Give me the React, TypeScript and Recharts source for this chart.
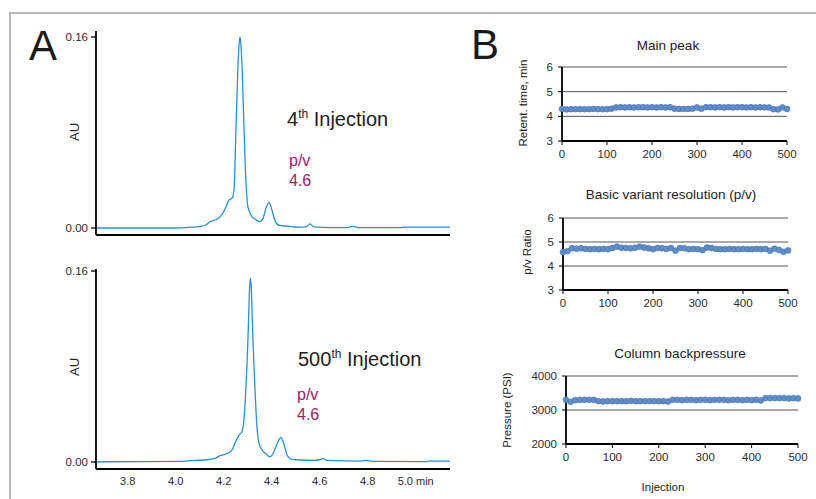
import { CartesianGrid, Line, LineChart, XAxis, YAxis } from "recharts";

const FONT = '"Liberation Sans", Arial, Helvetica, sans-serif';
const W = 816;
const H = 499;

// Panel A: chromatograms (retention time in min, absorbance in AU)
const TIME_4TH = [
  3.668, 3.98, 4.039, 4.093, 4.122, 4.143, 4.172, 4.197, 4.21, 4.222, 4.235, 4.243, 4.251, 4.26,
  4.264, 4.268, 4.272, 4.276, 4.285, 4.293, 4.301, 4.314, 4.33, 4.351, 4.364, 4.376, 4.389, 4.401,
  4.414, 4.43, 4.476, 4.518, 4.543, 4.56, 4.576, 4.643, 4.718, 4.739, 4.759, 4.934, 4.955, 5.143,
];
const AU_4TH = [
  0, 0, 0.0004, 0.0011, 0.0021, 0.0053, 0.0073, 0.0126, 0.0178, 0.0235, 0.0249, 0.0318, 0.0821,
  0.1382, 0.1533, 0.1598, 0.1533, 0.1382, 0.0821, 0.0377, 0.0178, 0.0109, 0.0075, 0.0053, 0.0081,
  0.0165, 0.0215, 0.0151, 0.0061, 0.0023, 0.0013, 0.0008, 0.001, 0.0034, 0.001, 0.0004, 0.0004,
  0.0013, 0.0004, 0.0003, 0.0007, 0.0007,
];
const TIME_500TH = [
  3.668, 3.726, 4.018, 4.08, 4.135, 4.164, 4.185, 4.214, 4.235, 4.251, 4.264, 4.276, 4.28, 4.287,
  4.293, 4.298, 4.303, 4.3075, 4.311, 4.315, 4.32, 4.326, 4.3325, 4.339, 4.347, 4.36, 4.376, 4.393,
  4.405, 4.422, 4.439, 4.451, 4.464, 4.48, 4.518, 4.58, 4.601, 4.614, 4.63, 4.768, 4.796, 4.818,
  5.039, 5.06, 5.143,
];
const AU_500TH = [
  0, 0.0002, 0.0006, 0.0013, 0.0021, 0.0031, 0.0053, 0.0071, 0.0101, 0.0176, 0.0226, 0.0254,
  0.0285, 0.0419, 0.0645, 0.0854, 0.1148, 0.1441, 0.1539, 0.1458, 0.1148, 0.0813, 0.0519, 0.0285,
  0.0159, 0.0101, 0.0067, 0.0044, 0.0067, 0.0151, 0.0207, 0.0151, 0.0059, 0.0025, 0.0017, 0.0014,
  0.0021, 0.0029, 0.0014, 0.0008, 0.0014, 0.0006, 0.0004, 0.0008, 0.0008,
];
const TIME_TICKS = [3.8, 4.0, 4.2, 4.4, 4.6, 4.8, 5.0];
const AU_TICKS = [0, 0.16];

// Panel B: trends over 500 injections
const INJECTIONS = [
  0, 10, 20, 30, 40, 50, 60, 70, 80, 90, 100, 110, 120, 130, 140, 150, 160, 170, 180, 190, 200,
  210, 220, 230, 240, 250, 260, 270, 280, 290, 300, 310, 320, 330, 340, 350, 360, 370, 380, 390,
  400, 410, 420, 430, 440, 450, 460, 470, 480, 490, 500,
];
const RETENTION = [
  4.3, 4.28, 4.29, 4.29, 4.29, 4.29, 4.29, 4.3, 4.29, 4.29, 4.29, 4.31, 4.36, 4.37, 4.36, 4.37,
  4.36, 4.37, 4.37, 4.36, 4.37, 4.36, 4.37, 4.36, 4.37, 4.31, 4.3, 4.3, 4.3, 4.31, 4.36, 4.31,
  4.37, 4.37, 4.36, 4.37, 4.36, 4.37, 4.36, 4.37, 4.37, 4.36, 4.37, 4.36, 4.37, 4.36, 4.36, 4.29,
  4.28, 4.36, 4.3,
];
const PV_RATIO = [
  4.58, 4.62, 4.74, 4.72, 4.74, 4.71, 4.7, 4.71, 4.7, 4.71, 4.7, 4.75, 4.81, 4.76, 4.75, 4.74,
  4.76, 4.81, 4.77, 4.74, 4.7, 4.75, 4.74, 4.71, 4.75, 4.64, 4.75, 4.74, 4.7, 4.71, 4.7, 4.66,
  4.77, 4.75, 4.71, 4.7, 4.7, 4.71, 4.7, 4.7, 4.71, 4.7, 4.7, 4.71, 4.7, 4.71, 4.64, 4.72, 4.67,
  4.59, 4.65,
];
const PRESSURE = [
  3300, 3240, 3290, 3300, 3300, 3300, 3300, 3260, 3250, 3260, 3260, 3260, 3260, 3260, 3270, 3260,
  3260, 3260, 3260, 3260, 3260, 3260, 3250, 3300, 3300, 3290, 3300, 3300, 3290, 3300, 3300, 3290,
  3300, 3300, 3300, 3290, 3300, 3300, 3290, 3300, 3290, 3300, 3280, 3350, 3350, 3350, 3350, 3350,
  3340, 3350, 3340,
];
const INJECTION_TICKS = [0, 100, 200, 300, 400, 500];

const fourth = TIME_4TH.map((t, i) => ({ t, au: AU_4TH[i] }));
const fivehundredth = TIME_500TH.map((t, i) => ({ t, au: AU_500TH[i] }));
const retention = INJECTIONS.map((n, i) => ({ n, v: RETENTION[i] }));
const pvRatio = INJECTIONS.map((n, i) => ({ n, v: PV_RATIO[i] }));
const pressure = INJECTIONS.map((n, i) => ({ n, v: PRESSURE[i] }));

const tickStyle = { fontSize: 11.5, fill: "#2b2b2b", fontFamily: FONT };
const axisLine = { stroke: "#000", strokeWidth: 1.8 };

type Box = { left: number; right: number; top: number; bottom: number };

function layer(): React.CSSProperties {
  return { position: "absolute", left: 0, top: 0 };
}

function Chromatogram({
  data,
  box,
  yMax,
  showTime,
}: {
  data: { t: number; au: number }[];
  box: Box;
  yMax: number;
  showTime: boolean;
}) {
  const xh = showTime ? 26 : 4;
  return (
    <div style={layer()}>
      <LineChart
        width={W}
        height={H}
        data={data}
        margin={{ top: box.top, right: W - box.right, bottom: H - box.bottom - xh, left: box.left - 44 }}
      >
        <XAxis
          dataKey="t"
          type="number"
          domain={[3.668, 5.143]}
          allowDataOverflow
          ticks={TIME_TICKS}
          tick={showTime ? { ...tickStyle, fontSize: 11 } : false}
          tickFormatter={(v: number) => (v === 5 ? "5.0 min" : v.toFixed(1))}
          tickLine={false}
          tickSize={4}
          tickMargin={4}
          axisLine={axisLine}
          height={xh}
        />
        <YAxis
          type="number"
          domain={[-0.00586, yMax]}
          allowDataOverflow
          ticks={AU_TICKS}
          tickFormatter={(v: number) => v.toFixed(2)}
          tick={tickStyle}
          tickLine={{ stroke: "#000", strokeWidth: 1.3 }}
          tickSize={5}
          tickMargin={3}
          axisLine={axisLine}
          width={44}
        />
        <Line
          dataKey="au"
          type="monotone"
          stroke="#2592da"
          strokeWidth={1.3}
          dot={false}
          isAnimationActive={false}
        />
      </LineChart>
    </div>
  );
}

function TrendChart({
  data,
  box,
  domain,
  ticks,
}: {
  data: { n: number; v: number }[];
  box: Box;
  domain: [number, number];
  ticks: number[];
}) {
  const xh = 24;
  return (
    <div style={layer()}>
      <LineChart
        width={W}
        height={H}
        data={data}
        margin={{ top: box.top, right: W - box.right, bottom: H - box.bottom - xh, left: box.left - 50 }}
      >
        <CartesianGrid vertical={false} stroke="#555" strokeWidth={1} />
        <XAxis
          dataKey="n"
          type="number"
          domain={[0, 500]}
          ticks={INJECTION_TICKS}
          tick={tickStyle}
          tickLine={{ stroke: "#000" }}
          tickSize={4}
          tickMargin={5}
          axisLine={axisLine}
          height={xh}
        />
        <YAxis
          type="number"
          domain={domain}
          ticks={ticks}
          tick={tickStyle}
          tickLine={{ stroke: "#000" }}
          tickSize={4}
          tickMargin={5}
          axisLine={axisLine}
          width={50}
        />
        <Line
          dataKey="v"
          type="linear"
          stroke="#4f81bd"
          strokeWidth={2.2}
          dot={{ r: 2.9, fill: "#5d8dcb", stroke: "#4677b6", strokeWidth: 0.7 }}
          isAnimationActive={false}
        />
      </LineChart>
    </div>
  );
}

function VText({ x, y, children, size = 11.5 }: { x: number; y: number; children: string; size?: number }) {
  return (
    <text
      x={x}
      y={y}
      dy="0.35em"
      fontSize={size}
      textAnchor="middle"
      transform={`rotate(-90 ${x} ${y})`}
      fill="#222"
    >
      {children}
    </text>
  );
}

export default function App() {
  return (
    <div
      style={{ position: "absolute", left: 0, top: 0, width: W, height: H, background: "#fff", fontFamily: FONT, overflow: "hidden" }}
    >
      <div
        style={{
          position: "absolute",
          left: 9,
          top: 12,
          width: W,
          height: H,
          borderTop: "2px solid #b8b8b8",
          borderLeft: "2px solid #b8b8b8",
        }}
      />
      <Chromatogram data={fourth} box={{ left: 96, right: 450, top: 31, bottom: 235 }} yMax={0.165} showTime={false} />
      <Chromatogram data={fivehundredth} box={{ left: 96, right: 450, top: 269, bottom: 469 }} yMax={0.1617} showTime />
      <TrendChart data={retention} box={{ left: 562, right: 787, top: 67, bottom: 141 }} domain={[3, 6]} ticks={[3, 4, 5, 6]} />
      <TrendChart data={pvRatio} box={{ left: 563, right: 788, top: 218, bottom: 290 }} domain={[3, 6]} ticks={[3, 4, 5, 6]} />
      <TrendChart data={pressure} box={{ left: 566, right: 798, top: 376, bottom: 444 }} domain={[2000, 4000]} ticks={[2000, 3000, 4000]} />
      <svg width={W} height={H} style={{ ...layer(), pointerEvents: "none" }} fontFamily={FONT}>
        <text x={29} y={60} fontSize={42} fill="#1a1a1a">A</text>
        <text x={471} y={59} fontSize={42} fill="#1a1a1a">B</text>

        <text x={287} y={126} fontSize={20} fill="#222">
          4<tspan fontSize={12} dy={-8}>th</tspan>
          <tspan dy={8}> Injection</tspan>
        </text>
        <text x={289} y={166} fontSize={16} fill="#9c2160">p/v</text>
        <text x={289} y={186} fontSize={16} fill="#9c2160">4.6</text>

        <text x={298} y={366} fontSize={20} fill="#222">
          500<tspan fontSize={12} dy={-8}>th</tspan>
          <tspan dy={8}> Injection</tspan>
        </text>
        <text x={297} y={400} fontSize={16} fill="#9c2160">p/v</text>
        <text x={297} y={420} fontSize={16} fill="#9c2160">4.6</text>

        <VText x={74} y={132} size={13}>AU</VText>
        <VText x={74} y={367} size={13}>AU</VText>

        <text x={668} y={50} fontSize={13.5} textAnchor="middle" fill="#222">Main peak</text>
        <text x={671} y={199} fontSize={13.5} textAnchor="middle" fill="#222">Basic variant resolution (p/v)</text>
        <text x={680} y={358} fontSize={13.5} textAnchor="middle" fill="#222">Column backpressure</text>

        <VText x={523} y={103}>Retent. time, min</VText>
        <VText x={527} y={252}>p/v Ratio</VText>
        <VText x={507} y={410}>Pressure (PSI)</VText>
        <text x={663} y={491} fontSize={11.5} textAnchor="middle" fill="#222">Injection</text>
      </svg>
    </div>
  );
}
